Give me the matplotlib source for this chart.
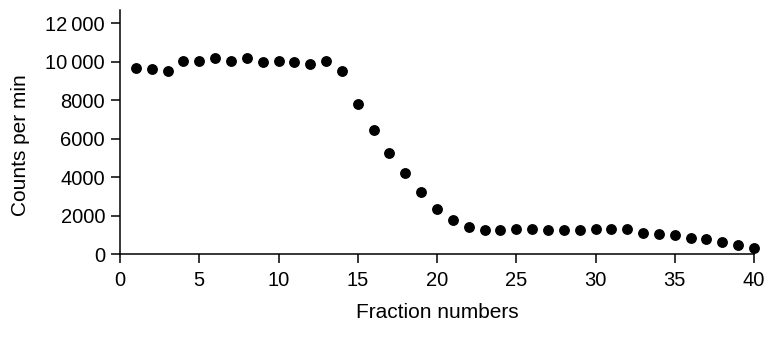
import matplotlib
matplotlib.use("Agg")
import matplotlib.pyplot as plt
from matplotlib.ticker import FuncFormatter

fractions = list(range(1, 41))
counts = [9700, 9650, 9500, 10060, 10030, 10210, 10060, 10210, 10010, 10040,
          9990, 9900, 10040, 9520, 7800, 6430, 5280, 4210, 3220, 2350,
          1770, 1420, 1260, 1260, 1310, 1310, 1260, 1230, 1230, 1280,
          1280, 1300, 1090, 1055, 990, 850, 780, 640, 470, 290]

x_ticks = [0, 5, 10, 15, 20, 25, 30, 35, 40]
y_ticks = [0, 2000, 4000, 6000, 8000, 10000, 12000]

plt.rcParams['font.family'] = ['Liberation Sans', 'DejaVu Sans']

fig = plt.figure(figsize=(7.77, 3.38), dpi=100)
ax = fig.add_axes([120/777, 84/338, 634/777, 244/338])

ax.plot(fractions, counts, 'o', color='black', markersize=6.8, clip_on=False, zorder=3)

ax.set_xlim(0, 40)
ax.set_ylim(0, 12700)
ax.set_xticks(x_ticks)
ax.set_yticks(y_ticks)

def fmt(v, pos):
    v = int(round(v))
    if v >= 10000:
        s = f"{v:d}"
        return s[:-3] + "\u2009" + s[-3:]
    return f"{v:d}"

ax.yaxis.set_major_formatter(FuncFormatter(fmt))

for side in ['top', 'right']:
    ax.spines[side].set_visible(False)
for side in ['left', 'bottom']:
    ax.spines[side].set_linewidth(1.1)

ax.tick_params(axis='both', which='major', direction='out', length=6.8, width=1.1,
               labelsize=14.5, colors='black')
ax.tick_params(axis='y', pad=4)
ax.tick_params(axis='x', pad=5.5)

fig.text(437/777, 1 - 313/338, "Fraction numbers", ha='center', va='center', fontsize=15)
fig.text(21/777, 1 - 145/338, "Counts per min", ha='center', va='center', fontsize=15,
         rotation=90)

fig.savefig("out.png", dpi=100)
